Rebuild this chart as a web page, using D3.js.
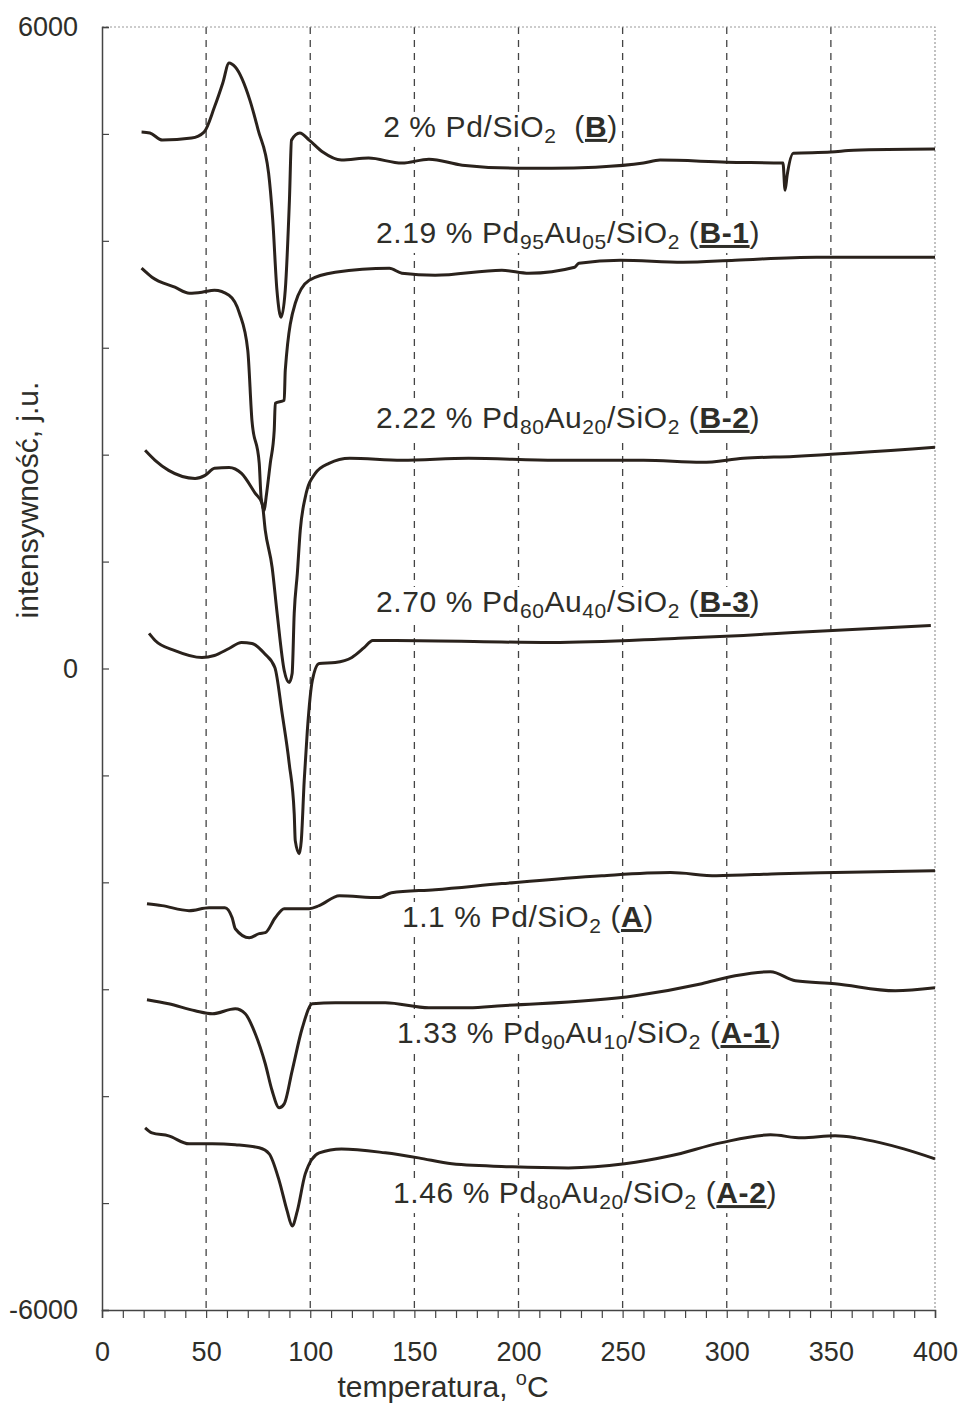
<!DOCTYPE html>
<html lang="pl">
<head>
<meta charset="UTF-8">
<title>TPR</title>
<script src="https://d3js.org/d3.v7.min.js"></script>
<style>
  body { margin: 0; background: #fff; }
  text { font-family: "Liberation Sans", Arial, sans-serif; fill: #2e2e29; }
</style>
</head>
<body>
<div id="chart"></div>
<script>
// temperature (°C) and intensity (j.u.)
const tempB  = [19,23,29,43,49,54,58,61,64,71,75,80,82,84,86,88,90,91,95,99.5,106,115,128,144,157,173,199,216,237,260,268,300,327,328,329,332,350,361,400];
const intB   = [5017,5008,4942,4961,5017,5251,5476,5663,5625,5316,5036,4633,4193,3538,3285,3538,4380,4942,5008,4942,4830,4755,4774,4727,4764,4708,4680,4680,4689,4727,4755,4736,4727,4474,4614,4820,4830,4848,4858];

const tempB1 = [19,24,35,42,48,54,61,66,70,72,75.5,76.4,77.9,78.8,80.8,82.7,83.2,87.5,88,92.8,99.5,112,138,144,160,192,205,227,229,249,279,304,343,400];
const intB1  = [3744,3660,3566,3510,3519,3538,3491,3323,2976,2321,1919,1601,1479,1601,1919,2228,2480,2508,2789,3416,3632,3707,3744,3697,3678,3725,3697,3753,3791,3819,3800,3819,3847,3847];

const tempB2 = [20.7,25.5,32,44.7,49.5,54,61,67,73.6,76.9,78.4,81.7,84.1,87.5,89.9,91.3,92.3,93.8,95.2,97.6,102.4,109,119,144,176,218,260,288,308,332,400];
const intB2  = [2041,1947,1853,1778,1806,1872,1881,1825,1638,1544,1292,945,515,-19,-131,-47,515,889,1292,1601,1825,1919,1966,1947,1966,1947,1947,1928,1966,1984,2069];

const tempB3 = [22.6,25.5,35,48,54,61,67,72,78,83,86.5,89.9,92.3,92.8,94.7,95.7,97.1,98.6,101,104.3,112,120,126,130,141,216,275,308,332,398];
const intB3  = [328,262,168,103,122,187,243,234,140,9,-421,-889,-1357,-1610,-1732,-1610,-1048,-580,-112,47,56,103,197,262,262,243,281,309,337,402];

const tempA  = [21.6,28.8,41.8,51.4,59,62.5,64,70.7,75.5,78.4,83.2,87.5,99.5,104.3,114,133,139,160,192,240,273,295,325,352,400];
const intA   = [-2200,-2218,-2265,-2237,-2237,-2331,-2434,-2518,-2480,-2471,-2331,-2246,-2246,-2218,-2125,-2143,-2097,-2069,-2012,-1938,-1909,-1938,-1919,-1909,-1891];

const tempA1 = [21.6,32,44.7,53,64,68.8,73.6,78.4,81.7,85.1,87.5,91.3,96.2,101,112,136,157,176,192,256,288,304,321,333,352,381,400];
const intA1  = [-3098,-3136,-3201,-3229,-3182,-3229,-3416,-3697,-3950,-4109,-4072,-3763,-3360,-3136,-3126,-3126,-3173,-3173,-3154,-3061,-2948,-2874,-2836,-2920,-2948,-3014,-2986];

const tempA2 = [20.7,24,32,41.8,53,64,75.5,80.3,85.1,88.9,91.3,93.8,97.6,104.3,115,136,152,168,197,224,251,273,297,321,336,352,362,374,385,400];
const intA2  = [-4296,-4343,-4371,-4446,-4446,-4455,-4483,-4540,-4792,-5073,-5214,-5073,-4727,-4530,-4493,-4530,-4577,-4633,-4661,-4671,-4633,-4558,-4437,-4362,-4390,-4371,-4390,-4437,-4493,-4586];

// series labels: [text, kind]  kind: "" normal, "sub" subscript, "bu" bold underlined
const labelB  = [["2 % Pd/SiO",""],["2","sub"],["  (",""],["B","bu"],[")",""]];
const labelB1 = [["2.19 % Pd",""],["95","sub"],["Au",""],["05","sub"],["/SiO",""],["2","sub"],[" (",""],["B-1","bu"],[")",""]];
const labelB2 = [["2.22 % Pd",""],["80","sub"],["Au",""],["20","sub"],["/SiO",""],["2","sub"],[" (",""],["B-2","bu"],[")",""]];
const labelB3 = [["2.70 % Pd",""],["60","sub"],["Au",""],["40","sub"],["/SiO",""],["2","sub"],[" (",""],["B-3","bu"],[")",""]];
const labelA  = [["1.1 % Pd/SiO",""],["2","sub"],[" (",""],["A","bu"],[")",""]];
const labelA1 = [["1.33 % Pd",""],["90","sub"],["Au",""],["10","sub"],["/SiO",""],["2","sub"],[" (",""],["A-1","bu"],[")",""]];
const labelA2 = [["1.46 % Pd",""],["80","sub"],["Au",""],["20","sub"],["/SiO",""],["2","sub"],[" (",""],["A-2","bu"],[")",""]];

const xTicks = d3.range(0, 401, 10);
const yTicks = d3.range(-6000, 6001, 1000);

const width = 966, height = 1406;
const margin = {top: 27, right: 31, bottom: 96, left: 102};

const series = [
  {t: tempB,  v: intB,  label: labelB,  at: [135, 4972]},
  {t: tempB1, v: intB1, label: labelB1, at: [131.6, 3980]},
  {t: tempB2, v: intB2, label: labelB2, at: [131.6, 2250]},
  {t: tempB3, v: intB3, label: labelB3, at: [131.6, 529]},
  {t: tempA,  v: intA,  label: labelA,  at: [144, -2418]},
  {t: tempA1, v: intA1, label: labelA1, at: [141.7, -3503]},
  {t: tempA2, v: intA2, label: labelA2, at: [139.7, -5000]}
];

const svg = d3.select("#chart").append("svg")
  .attr("width", width)
  .attr("height", height);

svg.append("rect").attr("width", width).attr("height", height).attr("fill", "#fff");

const x = d3.scaleLinear().domain([0, 400]).range([margin.left, width - margin.right]);
const y = d3.scaleLinear().domain([-6000, 6000]).range([height - margin.bottom, margin.top]);

// vertical dashed grid
svg.append("g")
  .selectAll("line")
  .data([50, 100, 150, 200, 250, 300, 350])
  .join("line")
  .attr("x1", d => x(d)).attr("x2", d => x(d))
  .attr("y1", y(6000)).attr("y2", y(-6000))
  .attr("stroke", "#444")
  .attr("stroke-width", 1.3)
  .attr("stroke-dasharray", "7,6");

// light dotted frame top / right
svg.append("path")
  .attr("d", `M${x(0)},${y(6000)}H${x(400)}V${y(-6000)}`)
  .attr("fill", "none")
  .attr("stroke", "#999")
  .attr("stroke-width", 1.2)
  .attr("stroke-dasharray", "2,2");

// x axis
const xAxis = svg.append("g")
  .attr("transform", `translate(0,${y(-6000)})`)
  .call(d3.axisBottom(x).tickValues(xTicks).tickSize(8).tickPadding(24)
    .tickFormat(d => d % 50 === 0 ? d : ""));
xAxis.select(".domain").attr("stroke", "#444").attr("stroke-width", 1.5);
xAxis.selectAll(".tick line").attr("stroke", "#444").attr("stroke-width", 1.2);
xAxis.selectAll("text").attr("font-size", 27).attr("fill", "#2e2e29");

// y axis
const yAxis = svg.append("g")
  .attr("transform", `translate(${x(0)},0)`)
  .call(d3.axisLeft(y).tickValues(yTicks).tickSize(-7).tickPadding(24)
    .tickFormat(d => (d === 6000 || d === 0 || d === -6000) ? d : ""));
yAxis.select(".domain").attr("stroke", "#444").attr("stroke-width", 1.5);
yAxis.selectAll(".tick line").attr("stroke", "#444").attr("stroke-width", 1.2);
yAxis.selectAll("text").attr("font-size", 27).attr("fill", "#2e2e29");

// labels, each on a white patch that hides the grid behind it
series.forEach(s => {
  const g = svg.append("g");
  const bg = g.append("rect").attr("fill", "#fff");
  const txt = g.append("text")
    .attr("x", x(s.at[0]))
    .attr("y", y(s.at[1]))
    .attr("font-size", 30)
    .attr("letter-spacing", 0.6)
    .style("white-space", "pre");
  let shifted = false;
  s.label.forEach(([str, kind]) => {
    const ts = txt.append("tspan").text(str);
    if (kind === "sub") {
      ts.attr("font-size", 21);
      if (!shifted) { ts.attr("dy", 6); shifted = true; }
    } else {
      if (shifted) { ts.attr("dy", -6); shifted = false; }
      if (kind === "bu") ts.attr("font-weight", "bold").style("text-decoration", "underline");
    }
  });
  const bb = txt.node().getBBox();
  bg.attr("x", bb.x - 2).attr("y", bb.y + 2)
    .attr("width", bb.width + 4).attr("height", bb.height - 2);
});

// curves
const line = d3.line()
  .x(d => x(d[0]))
  .y(d => y(d[1]))
  .curve(d3.curveMonotoneX);

svg.append("g")
  .selectAll("path")
  .data(series)
  .join("path")
  .attr("d", s => line(s.t.map((t, i) => [t, s.v[i]])))
  .attr("fill", "none")
  .attr("stroke", "#2a221c")
  .attr("stroke-width", 3)
  .attr("stroke-linejoin", "round");

// axis titles
const xt = svg.append("text")
  .attr("x", 443)
  .attr("y", 1397)
  .attr("text-anchor", "middle")
  .attr("font-size", 30);
xt.append("tspan").text("temperatura, ");
xt.append("tspan").text("o").attr("font-size", 20).attr("dy", -12);
xt.append("tspan").text("C").attr("dy", 12);

svg.append("text")
  .attr("transform", `translate(38,500) rotate(-90)`)
  .attr("text-anchor", "middle")
  .attr("font-size", 30)
  .text("intensywność, j.u.");
</script>
</body>
</html>
